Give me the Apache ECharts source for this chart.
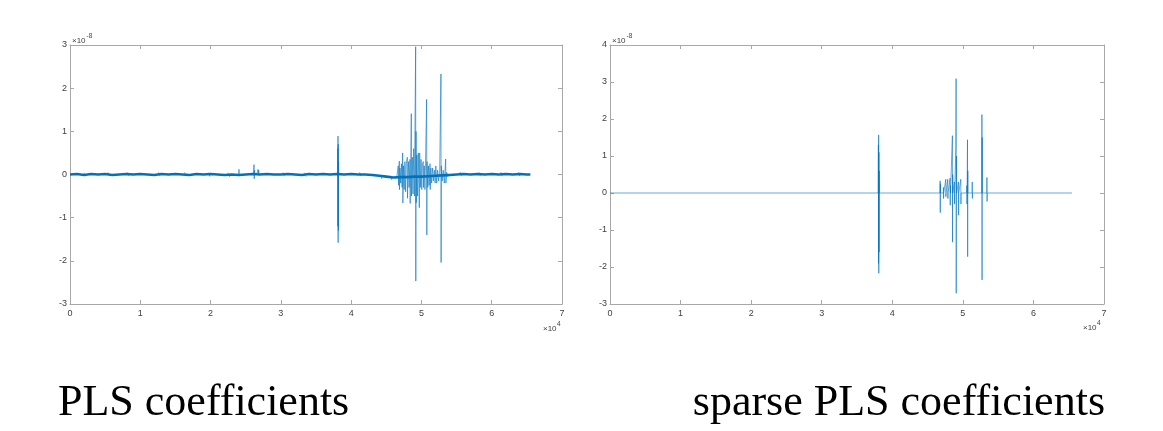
<!DOCTYPE html>
<html>
<head>
<meta charset="utf-8">
<script src="https://cdn.jsdelivr.net/npm/echarts@6/dist/echarts.min.js"></script>
<style>
html,body{margin:0;padding:0;background:#fff;}
#c{width:1163px;height:431px;}
</style>
</head>
<body>
<div id="c"></div>
<script>
// ---- data (values in units of 1e-8, x in sample index) ----
var xTicks = [0, 1, 2, 3, 4, 5, 6, 7];           // ×10^4
var yTicksLeft = [-3, -2, -1, 0, 1, 2, 3];       // ×10^-8
var yTicksRight = [-3, -2, -1, 0, 1, 2, 3, 4];   // ×10^-8
var titles = ['PLS coefficients', 'sparse PLS coefficients'];

// PLS baseline (centre of the dense noise band), every 1000 samples from x = 0
var plsBaseStep = 1000;
var plsBaseline = [
  0.00,0.01,-0.01,0.01,0.00,0.01,-0.01,0.00,0.01,0.00,
  0.01,0.00,-0.01,0.01,0.00,0.01,0.00,-0.01,0.01,0.00,
  0.01,0.00,-0.01,0.00,-0.01,0.00,0.01,0.00,0.01,0.00,
  0.00,0.01,0.00,-0.01,0.01,0.00,0.01,0.00,0.01,0.00,
  0.01,0.00,0.00,-0.01,-0.03,-0.05,-0.07,-0.06,-0.06,-0.05,
  -0.05,-0.04,-0.03,-0.02,-0.01,0.00,0.01,0.00,0.01,0.00,
  0.01,0.00,0.01,0.00,0.01,0.00,0.00
];
var plsEnd = 65500;
// PLS baseline band edges: small jitter pairs [x, y]
var plsJitter = [
  [2000,0.04],[2200,-0.04],[5400,0.05],[5600,-0.03],[8200,0.05],[8400,-0.04],
  [12600,0.05],[12800,-0.04],[16300,0.05],[16500,-0.04],[19700,0.04],[19900,-0.05],
  [22500,0.04],[22700,-0.06],[30300,0.05],[30500,-0.04],[33400,0.04],[33600,-0.05],
  [41200,0.05],[41400,-0.04],[44200,-0.02],[44400,-0.11],[45600,-0.03],[45800,-0.13],
  [55500,0.06],[55700,-0.04],[58200,0.05],[58400,-0.04],[61300,0.06],[61500,-0.04],
  [63800,0.05],[64000,-0.04]
];

// PLS spikes [x, y]
var plsSpikes = [
  [24000,0],[24040,0.12],[24080,-0.03],[24120,0],null,
  [26100,0],[26150,0.15],[26180,0.23],[26210,-0.10],[26250,0.10],[26300,0],
  [26700,0.05],[26750,0.12],[26800,0.03],[26850,0.10],[26900,0],null,
  [38050,0],[38090,0.60],[38110,-1.20],[38130,0.89],[38150,-1.58],[38170,0.70],[38190,-1.30],[38210,0.30],[38240,0],null,
  [46500,-0.05],[46600,-0.08],[46700,0.20],[46750,-0.25],[46850,0.31],[46880,-0.35],[46950,0.15],[47050,-0.20],
  [47150,0.25],[47250,-0.30],[47330,0.50],[47360,-0.66],[47450,0.20],[47550,-0.35],[47650,0.30],[47750,-0.40],
  [47850,0.25],[47990,0.40],[48020,-0.55],[48150,0.30],[48250,-0.30],[48370,0.35],[48400,-0.67],[48500,0.50],
  [48560,1.41],[48590,-0.50],[48700,0.40],[48800,-0.45],[48900,0.60],[49000,-0.50],[49100,1.45],[49180,2.96],
  [49200,-2.47],[49230,1.00],[49260,-0.65],[49350,0.45],[49450,-0.50],[49550,0.50],[49700,-0.77],[49750,0.50],
  [49850,-0.30],[49950,0.35],[50050,-0.35],[50150,0.25],[50270,0.30],[50300,-0.30],[50400,0.20],[50500,-0.35],
  [50600,0.45],[50740,1.74],[50770,-1.40],[50800,0.30],[50900,-0.30],[51000,0.20],[51100,-0.25],[51220,0.25],
  [51250,-0.35],[51350,0.15],[51450,-0.20],[51600,0.15],[51700,-0.15],[51850,0.10],[51950,-0.20],[52050,0.20],
  [52170,-0.20],[52300,0.10],[52450,-0.15],[52600,0.10],[52780,2.33],[52800,-2.04],[52830,0.20],[52950,-0.15],
  [53100,0.10],[53250,-0.20],[53450,0.36],[53480,-0.20],[53600,0.05],[53750,-0.05],[53900,0]
];

// sparse PLS coefficients [x, y]
var sparsePls = [
  [0,0],[38000,0],[38030,1.30],[38050,-1.90],[38070,1.57],[38090,-2.17],[38110,1.10],[38130,-1.60],[38150,0.60],[38170,0],
  [46750,0],[46780,0.33],[46800,-0.53],[46820,0.25],[46840,0],
  [47230,0],[47250,0.15],[47270,-0.15],[47290,0],
  [47560,0],[47580,0.37],[47600,-0.10],[47620,0],
  [47840,0],[47860,0.37],[47880,-0.15],[47900,0],
  [48170,0],[48190,0.40],[48210,-0.33],[48230,0.20],[48250,0],
  [48500,0],[48520,1.55],[48540,-1.33],[48560,0.50],[48580,0],
  [48780,0],[48800,0.30],[48820,-0.30],[48840,0],
  [49000,0],[49020,1.30],[49040,3.09],[49060,-2.71],[49080,-0.80],[49100,1.00],[49120,0],
  [49360,0],[49380,0.30],[49400,-0.60],[49420,0],
  [49690,0],[49710,0.37],[49730,-0.30],[49750,0],
  [50540,0],[50560,0.20],[50580,-0.30],[50600,0],
  [50640,0],[50660,1.44],[50680,-1.72],[50700,0.60],[50720,0],
  [51310,0],[51330,0.30],[51350,-0.15],[51370,0],
  [52680,0],[52700,2.12],[52720,-2.35],[52740,1.50],[52760,0],
  [53390,0],[53410,0.42],[53430,-0.23],[53450,0],
  [65460,0]
];

// ---- build ----
var plsBase = plsBaseline.map(function (v, i) { return [Math.min(i * plsBaseStep, plsEnd), v]; });
var jitterSeg = [];
plsJitter.forEach(function (p, i) {
  jitterSeg.push(p);
  if (i % 2 === 1) jitterSeg.push(null);
});

var BLUE = '#0072BD';
var AX = '#a8a8a8';
var LBL = '#404040';
var FONT = 'Liberation Sans, Arial, Helvetica, sans-serif';

var grids = [
  { left: 70, top: 45, width: 492, height: 259 },
  { left: 610, top: 45, width: 494, height: 259 }
];

function xAx(gi, pos) {
  var main = pos === 'bottom';
  return {
    type: 'value', gridIndex: gi, position: pos,
    min: xTicks[0] * 1e4, max: xTicks[xTicks.length - 1] * 1e4, interval: 1e4,
    axisLine: { show: true, onZero: false, lineStyle: { color: AX, width: 1 } },
    axisTick: { show: true, inside: true, length: 4, lineStyle: { color: AX } },
    axisLabel: { show: main, color: LBL, fontSize: 9, fontFamily: FONT, margin: 5,
      formatter: function (v) { return String(v / 1e4); } },
    splitLine: { show: false }
  };
}
function yAx(gi, pos, ticks) {
  var main = pos === 'left';
  return {
    type: 'value', gridIndex: gi, position: pos,
    min: ticks[0], max: ticks[ticks.length - 1], interval: 1,
    axisLine: { show: true, onZero: false, lineStyle: { color: AX, width: 1 } },
    axisTick: { show: true, inside: true, length: 4, lineStyle: { color: AX } },
    axisLabel: { show: main, color: LBL, fontSize: 9, fontFamily: FONT, margin: 3 },
    splitLine: { show: false }
  };
}

function txt(x, y, s, size, align, family, color) {
  return { type: 'text', x: x, y: y, silent: true,
    style: { text: s, fontSize: size, fontFamily: family || FONT, fill: color || LBL,
      align: align || 'left', verticalAlign: 'middle' } };
}

var option = {
  animation: false,
  backgroundColor: '#ffffff',
  grid: grids,
  xAxis: [xAx(0, 'bottom'), xAx(0, 'top'), xAx(1, 'bottom'), xAx(1, 'top')],
  yAxis: [yAx(0, 'left', yTicksLeft), yAx(0, 'right', yTicksLeft),
          yAx(1, 'left', yTicksRight), yAx(1, 'right', yTicksRight)],
  series: [
    { type: 'line', xAxisIndex: 0, yAxisIndex: 0, data: plsBase, showSymbol: false, symbol: 'none',
      lineStyle: { color: BLUE, width: 2.6 }, silent: true },
    { type: 'line', xAxisIndex: 0, yAxisIndex: 0, data: jitterSeg, showSymbol: false, symbol: 'none',
      connectNulls: false, lineStyle: { color: BLUE, width: 0.6 }, silent: true },
    { type: 'line', xAxisIndex: 0, yAxisIndex: 0, data: plsSpikes, showSymbol: false, symbol: 'none',
      connectNulls: false, lineStyle: { color: BLUE, width: 0.6 }, silent: true },
    { type: 'line', xAxisIndex: 2, yAxisIndex: 2, data: sparsePls, showSymbol: false, symbol: 'none',
      lineStyle: { color: BLUE, width: 0.6 }, silent: true }
  ],
  graphic: [
    txt(72, 41, '×10', 8),
    txt(86.5, 36, '-8', 6.5),
    txt(612, 41, '×10', 8),
    txt(626.5, 36, '-8', 6.5),
    txt(543, 329, '×10', 8),
    txt(557, 324, '4', 6.5),
    txt(1083, 328, '×10', 8),
    txt(1097, 323, '4', 6.5),
    txt(58, 403, titles[0], 44, 'left', 'Liberation Serif, Times New Roman, serif', '#000'),
    txt(1105, 403, titles[1], 44, 'right', 'Liberation Serif, Times New Roman, serif', '#000')
  ]
};

var chart = echarts.init(document.getElementById('c'), null, { renderer: 'canvas' });
chart.setOption(option);
</script>
</body>
</html>
